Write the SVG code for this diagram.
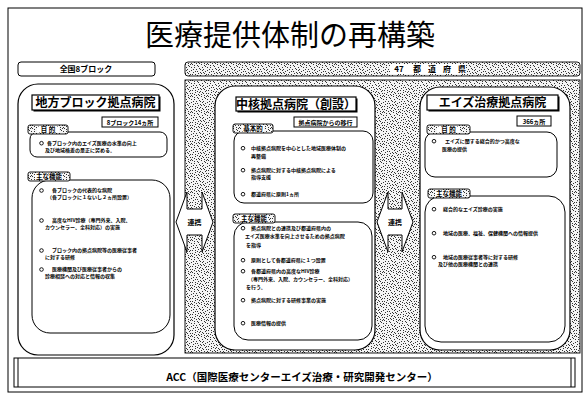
<svg xmlns="http://www.w3.org/2000/svg" width="584" height="394" viewBox="0 0 584 394">
<defs>
<pattern id="dots" width="16" height="16" patternUnits="userSpaceOnUse">
<rect width="16" height="16" fill="#f4f4f4"/>
<path fill="#333" d="M0,0h1v1h-1zM5,1h1v1h-1zM9,0h1v1h-1zM13,2h1v1h-1zM2,3h1v1h-1zM7,4h1v1h-1zM11,5h1v1h-1zM15,6h1v1h-1zM3,7h1v1h-1zM8,8h1v1h-1zM12,9h1v1h-1zM0,10h1v1h-1zM5,11h1v1h-1zM10,12h1v1h-1zM14,13h1v1h-1zM2,14h1v1h-1zM7,15h1v1h-1zM12,15h1v1h-1zM4,5h1v1h-1zM14,0h1v1h-1zM1,8h1v1h-1zM10,3h1v1h-1zM6,9h1v1h-1zM13,11h1v1h-1zM3,12h1v1h-1zM9,14h1v1h-1zM15,15h1v1h-1zM11,8h1v1h-1zM6,2h1v1h-1zM0,13h1v1h-1zM8,11h1v1h-1zM13,7h1v1h-1zM4,15h1v1h-1zM10,6h1v1h-1zM1,5h1v1h-1zM7,12h1v1h-1zM15,3h1v1h-1zM5,7h1v1h-1zM12,1h1v1h-1zM3,10h1v1h-1zM9,9h1v1h-1zM14,10h1v1h-1zM2,1h1v1h-1zM6,14h1v1h-1zM11,13h1v1h-1zM8,5h1v1h-1z"/>
</pattern>
</defs>
<style>
text{font-family:"Noto Sans CJK JP","Noto Sans",sans-serif;fill:#000}
.b{font-weight:bold}
.it{font-size:5px;font-weight:bold}
.ttl{font-size:12px;font-weight:bold;text-anchor:middle}
.sm{font-size:6px;font-weight:bold;text-anchor:middle}
.lbl{font-size:6.5px;font-weight:bold;text-anchor:middle}
.ln{fill:none;stroke:#000;stroke-width:1}
.panel{fill:#fff;stroke:#000;stroke-width:1.2}
.box{fill:#fff;stroke:#000;stroke-width:1}
.lab{fill:url(#dots);stroke:#000;stroke-width:0.9}
.wb{fill:#fff}
.tb{fill:#fff;stroke:#000;stroke-width:1.2}
.sh{fill:#000}
.c{fill:none;stroke:#000;stroke-width:0.9}
</style>
<rect x="0" y="0" width="584" height="394" fill="#fff"/>
<rect x="8" y="8" width="574" height="384" class="ln" stroke-width="1.5"/>
<text x="290" y="46" font-size="29" text-anchor="middle">医療提供体制の再構築</text>

<g id="header-left">
<rect x="18" y="62" width="137" height="14" rx="3" class="box"/>
<text x="86" y="72" font-size="8" class="b" text-anchor="middle">全国8ブロック</text>
</g>
<g id="header-right">
<rect x="185" y="62" width="395" height="14" rx="3" class="lab"/>
<rect x="390" y="64" width="76" height="10" class="wb"/>
<text y="72" font-size="8" class="b" text-anchor="middle"><tspan x="399">47</tspan><tspan x="417">都</tspan><tspan x="432">道</tspan><tspan x="447">府</tspan><tspan x="462">県</tspan></text>
</g>
<rect id="prefecture-area" x="185" y="80" width="395" height="273" class="lab"/>

<g id="block-hospital">
<rect x="18" y="84" width="156" height="271" rx="20" class="panel"/>
<rect x="33.5" y="96.5" width="127" height="15" class="sh"/>
<rect x="32" y="95" width="127" height="15" class="tb"/>
<text x="95.5" y="107" class="ttl">地方ブロック拠点病院</text>
<rect x="102" y="117" width="56" height="10" class="box"/>
<text x="130" y="124.5" class="sm">8ブロック14ヵ所</text>
<rect x="30" y="132" width="137" height="25" rx="7" class="box"/>
<rect x="28" y="125" width="40" height="9" rx="2" class="lab"/>
<rect x="37" y="126.5" width="22" height="6" class="wb"/>
<text x="48" y="132" class="lbl">目 的</text>
<circle cx="41.5" cy="143.2" r="1.8" class="c"/>
<text x="47" y="145" class="it">各ブロック内のエイズ医療の水準の向上</text>
<text x="45" y="152" class="it">及び地域格差の是正に努める。</text>
<rect x="32" y="180" width="138" height="153" rx="18" class="box"/>
<rect x="28" y="172" width="42" height="9" rx="2" class="lab"/>
<rect x="35" y="173.5" width="28" height="6" class="wb"/>
<text x="49" y="179" class="lbl">主な機能</text>
<circle cx="41.5" cy="190.5" r="1.8" class="c"/>
<text x="52" y="192.3" class="it">各ブロックの代表的な病院</text>
<text x="47" y="199.3" class="it">（各ブロックに１ないし２ヵ所設置）</text>
<circle cx="41.5" cy="220.5" r="1.8" class="c"/>
<text x="52" y="222.3" class="it">高度なHIV診療（専門外来、入院、</text>
<text x="45" y="229.3" class="it">カウンセラー、全科対応）の実施</text>
<circle cx="41.5" cy="250.5" r="1.8" class="c"/>
<text x="52" y="252.3" class="it">ブロック内の拠点病院等の医療従事者</text>
<text x="45" y="259.3" class="it">に対する研修</text>
<circle cx="41.5" cy="269.5" r="1.8" class="c"/>
<text x="52" y="271.3" class="it">医療機関及び医療従事者からの</text>
<text x="45" y="278.3" class="it">診療相談への対応と情報の収集</text>
</g>

<g id="core-hospital">
<rect x="215" y="86" width="160" height="264" rx="20" class="panel"/>
<rect x="237.5" y="98.5" width="120" height="14" class="sh"/>
<rect x="236" y="97" width="120" height="14" class="tb"/>
<text x="296" y="108.5" class="ttl" font-size="11.5">中核拠点病院（創設）</text>
<rect x="294" y="117" width="63" height="10" class="box"/>
<text x="325.5" y="124.5" class="sm">拠点病院からの移行</text>
<rect x="234" y="131" width="139" height="72" rx="10" class="box"/>
<rect x="233" y="124" width="40" height="9" rx="2" class="lab"/>
<rect x="242" y="125.5" width="22" height="6" class="wb"/>
<text x="253" y="131" class="lbl">基本的</text>
<circle cx="243" cy="148.2" r="1.8" class="c"/>
<text x="251" y="150" class="it">中核拠点病院を中心とした地域医療体制の</text>
<text x="251" y="158" class="it">再整備</text>
<circle cx="243" cy="170.2" r="1.8" class="c"/>
<text x="251" y="172" class="it">拠点病院に対する中核拠点病院による</text>
<text x="251" y="179" class="it">指導支援</text>
<circle cx="243" cy="194.2" r="1.8" class="c"/>
<text x="251" y="196" class="it">都道府県に原則1ヵ所</text>
<rect x="234" y="222" width="138" height="118" rx="14" class="box"/>
<rect x="233" y="214" width="42" height="9" rx="2" class="lab"/>
<rect x="240" y="215.5" width="28" height="6" class="wb"/>
<text x="254" y="221" class="lbl">主な機能</text>
<circle cx="243" cy="228.2" r="1.8" class="c"/>
<text x="251" y="230" class="it">拠点病院との連携及び都道府県内の</text>
<text x="245" y="238" class="it">エイズ医療水準を向上させるための拠点病院</text>
<text x="246" y="247" class="it">を指導</text>
<circle cx="243" cy="260.2" r="1.8" class="c"/>
<text x="251" y="262" class="it">原則として各都道府県に１つ設置</text>
<circle cx="243" cy="271.2" r="1.8" class="c"/>
<text x="251" y="273" class="it">各都道府県内の高度なHIV診療</text>
<text x="248" y="281" class="it">（専門外来、入院、カウンセラー、全科対応）</text>
<text x="246" y="289" class="it">を行う。</text>
<circle cx="243" cy="300.2" r="1.8" class="c"/>
<text x="251" y="302" class="it">拠点病院に対する研修事業の実施</text>
<circle cx="243" cy="323.2" r="1.8" class="c"/>
<text x="251" y="325" class="it">医療情報の提供</text>
</g>

<g id="aids-hospital">
<rect x="420" y="87" width="150" height="263" rx="20" class="panel"/>
<rect x="428.5" y="96.5" width="131" height="15" class="sh"/>
<rect x="427" y="95" width="131" height="15" class="tb"/>
<text x="492.5" y="107" class="ttl" font-size="13">エイズ治療拠点病院</text>
<rect x="517" y="116" width="34" height="10" class="box"/>
<text x="534" y="123.5" class="sm">366ヵ所</text>
<rect x="425" y="132" width="132" height="45" rx="10" class="box"/>
<rect x="427" y="125" width="43" height="9" rx="2" class="lab"/>
<rect x="437" y="126.5" width="23" height="6" class="wb"/>
<text x="448.5" y="132" class="lbl">目 的</text>
<circle cx="434" cy="141.2" r="1.8" class="c"/>
<text x="445" y="143" class="it">エイズに関する総合的かつ高度な</text>
<text x="442" y="151" class="it">医療の提供</text>
<rect x="425" y="196" width="140" height="146" rx="16" class="box"/>
<rect x="428" y="189" width="42" height="9" rx="2" class="lab"/>
<rect x="435" y="190.5" width="28" height="6" class="wb"/>
<text x="449" y="196" class="lbl">主な機能</text>
<circle cx="434" cy="209.2" r="1.8" class="c"/>
<text x="443" y="211" class="it">総合的なエイズ診療の実施</text>
<circle cx="434" cy="233.2" r="1.8" class="c"/>
<text x="443" y="235" class="it">地域の医療、福祉、保健機関への情報提供</text>
<circle cx="434" cy="257.2" r="1.8" class="c"/>
<text x="443" y="259" class="it">地域の医療従事者等に対する研修</text>
<text x="438" y="266" class="it">及び他の医療機関との連携</text>
</g>

<g id="connectors">
<polygon points="176,222 187,192 187,209 202,209 202,192 213,222 202,252 202,235 187,235 187,252" fill="#fff" stroke="#000" stroke-width="1"/>
<text x="194.5" y="225" font-size="7" class="b" text-anchor="middle">連携</text>
<polygon points="377,222 388,192 388,209 402,209 402,192 413,222 402,252 402,235 388,235 388,252" fill="#fff" stroke="#000" stroke-width="1"/>
<text x="395" y="225" font-size="7" class="b" text-anchor="middle">連携</text>
</g>

<g id="acc">
<rect x="14" y="358" width="561" height="29" class="box" stroke-width="1.2"/>
<line x1="18" y1="358" x2="18" y2="387" class="ln"/>
<line x1="571" y1="358" x2="571" y2="387" class="ln"/>
<text x="302" y="381" font-size="10.5" class="b" text-anchor="middle">ACC（国際医療センターエイズ治療・研究開発センター）</text>
</g>
</svg>
